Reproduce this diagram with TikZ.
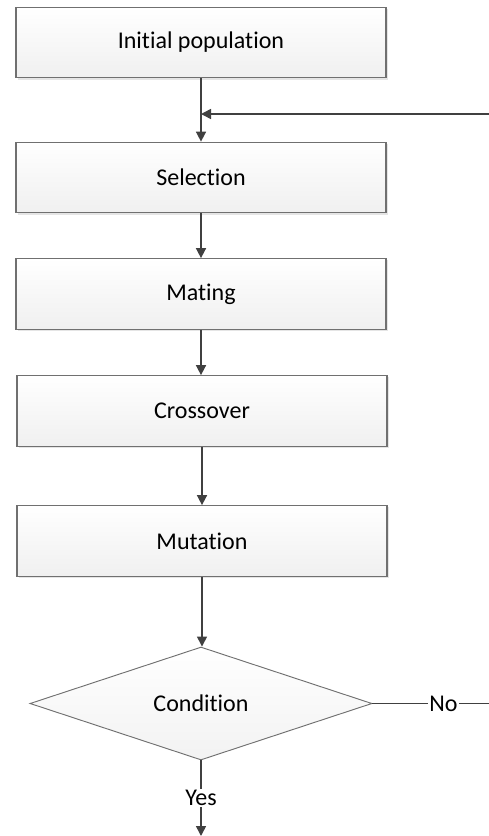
\documentclass[tikz,border=0pt]{standalone}
\usepackage{fontspec}
\setmainfont{Carlito}[Ligatures=NoCommon]
\usetikzlibrary{arrows.meta,shapes.geometric,shadows}

\definecolor{boxline}{HTML}{707070}
\definecolor{arrowline}{HTML}{404040}

\tikzset{
  stepbox/.style={draw=boxline, line width=0.9pt, top color=white, bottom color=gray!12,
    minimum width=11.1cm, minimum height=2.12cm, inner sep=0pt,
    drop shadow={shadow xshift=0.05cm, shadow yshift=-0.05cm, fill=gray!40, opacity=0.5},
    font=\fontsize{20.5}{24}\selectfont},
  testbox/.style={diamond, draw=boxline, line width=0.8pt, top color=white, bottom color=gray!10,
    minimum width=10.26cm, minimum height=3.39cm, aspect=3.03, inner sep=0pt,
    font=\fontsize{20.5}{24}\selectfont},
  flow/.style={draw=arrowline, line width=1.3pt, -{Triangle[width=0.3cm, length=0.3cm]}},
  plainflow/.style={draw=arrowline, line width=1.3pt},
  tag/.style={fill=white, inner sep=1pt, font=\fontsize{20.5}{24}\selectfont}
}

\begin{document}
\begin{tikzpicture}[x=0.03cm, y=-0.03cm]
  \useasboundingbox (0, 0) rectangle (489, 836);

  \node [stepbox] (init) at (201, 42.5) {Initial population};
  \node [stepbox] (sel) at (201, 177.5) {Selection};
  \node [stepbox] (mate) at (201, 294) {Mating};
  \node [stepbox] (cross) at (202, 411) {Crossover};
  \node [stepbox] (mut) at (202, 541) {Mutation};
  \node [testbox] (cond) at (201, 703.5) {Condition};

  \coordinate (loopin) at (489, 114);
  \coordinate (join) at (init.south |- loopin);
  \coordinate (noend) at (489, 703.5);
  \coordinate (yesend) at (201, 836);

  \draw [flow] (init.south) -- (sel.north);
  \draw [flow] (loopin) -- (join);
  \draw [flow] (sel.south) -- (sel.south |- mate.north);
  \draw [flow] (mate.south) -- (mate.south |- cross.north);
  \draw [flow] (cross.south) -- (cross.south |- mut.north);
  \draw [flow] (mut.south) -- (mut.south |- cond.north);

  \draw [plainflow] (cond.east) -- (noend) node [tag, pos=0.61] {No};
  \draw [flow] (cond.south) -- (yesend) node [tag, pos=0.5] {Yes};
\end{tikzpicture}
\end{document}
